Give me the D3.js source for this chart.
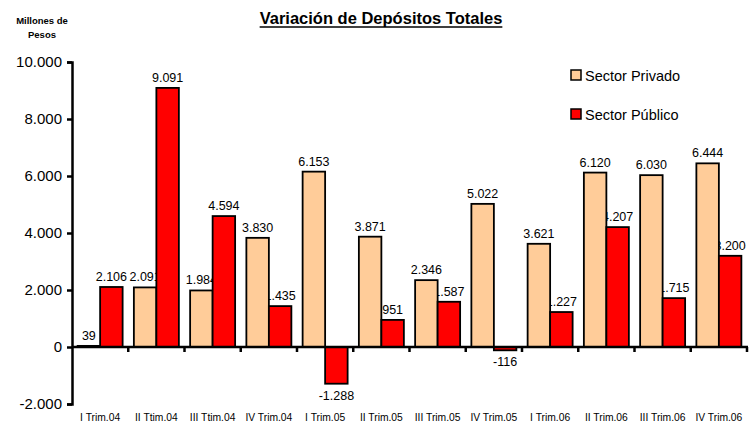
<!DOCTYPE html>
<html>
<head>
<meta charset="utf-8">
<script src="https://cdn.jsdelivr.net/npm/d3@7"></script>
<style>
  body { margin: 0; background: #fff; }
  svg text { font-family: Arial, "Liberation Sans", sans-serif; }
</style>
</head>
<body>
<div id="chart"></div>
<script>
const categories = ["I Trim.04", "II Ttim.04", "III Ttim.04", "IV Trim.04", "I Trim.05", "II Trim.05",
                    "III Trim.05", "IV Trim.05", "I Trim.06", "II Trim.06", "III Trim.06", "IV Trim.06"];
const privado = [39, 2091, 1984, 3830, 6153, 3871, 2346, 5022, 3621, 6120, 6030, 6444];
const publico = [2106, 9091, 4594, 1435, -1288, 951, 1587, -116, 1227, 4207, 1715, 3200];
const seriesNames = ["Sector Privado", "Sector Público"];
const seriesColors = ["#FFCC99", "#FF0000"];
const yTicks = [-2000, 0, 2000, 4000, 6000, 8000, 10000];

const w = 755, h = 423;
const pad_left = 72, pad_right = 747, pad_top = 62, pad_bottom = 404;

const loc = d3.formatLocale({decimal: ",", thousands: ".", grouping: [3], currency: ["$", ""], minus: "-"});
const fmt = loc.format(",d");

const svg = d3.select("#chart").append("svg").attr("width", w).attr("height", h);

const x0 = d3.scaleBand().domain(categories).range([pad_left, pad_right]).padding(0);
const x1 = d3.scaleBand().domain([0, 1]).range([0, x0.bandwidth()]).paddingInner(0).paddingOuter(0.25);
const y = d3.scaleLinear().domain([-2000, 10000]).range([pad_bottom, pad_top]);

const rows = [];
categories.forEach((c, i) => {
  rows.push({cat: c, s: 0, v: privado[i]});
  rows.push({cat: c, s: 1, v: publico[i]});
});

// title
const title = svg.append("text")
  .attr("x", 381).attr("y", 24)
  .attr("text-anchor", "middle")
  .style("font-size", "16.5px").style("font-weight", "bold")
  .text("Variación de Depósitos Totales");
const tb = title.node().getBBox();
svg.append("line").attr("x1", tb.x).attr("x2", tb.x + tb.width)
  .attr("y1", 27).attr("y2", 27).attr("stroke", "#000").attr("stroke-width", 1.4);

// unit label
svg.append("text").attr("x", 42).attr("y", 24).attr("text-anchor", "middle")
  .style("font-size", "9.5px").style("font-weight", "bold").text("Millones de");
svg.append("text").attr("x", 42).attr("y", 38).attr("text-anchor", "middle")
  .style("font-size", "9.5px").style("font-weight", "bold").text("Pesos");

// value labels (drawn first so bars cover them like the original)
svg.append("g").selectAll("text").data(rows).enter().append("text")
  .attr("x", d => x0(d.cat) + x1(d.s) + x1.bandwidth() / 2)
  .attr("y", d => d.v >= 0 ? y(d.v) - 6 : y(d.v) + 16)
  .attr("text-anchor", "middle")
  .style("font-size", "12.5px")
  .text(d => fmt(d.v));

// bars
svg.append("g").selectAll("rect").data(rows).enter().append("rect")
  .attr("x", d => x0(d.cat) + x1(d.s))
  .attr("y", d => y(Math.max(0, d.v)))
  .attr("width", x1.bandwidth())
  .attr("height", d => Math.abs(y(d.v) - y(0)))
  .attr("fill", d => seriesColors[d.s])
  .attr("stroke", "#000").attr("stroke-width", 1.8);

// y axis
const yAxis = d3.axisLeft(y).tickValues(yTicks).tickSize(5).tickPadding(5)
  .tickFormat(d => fmt(d));
const gy = svg.append("g").attr("transform", "translate(" + pad_left + ",0)").call(yAxis);
gy.select(".domain").attr("stroke-width", 2.5);
gy.selectAll(".tick line").attr("stroke-width", 2.5);
gy.selectAll(".tick text").style("font-size", "15px").style("font-family", "Arial, 'Liberation Sans', sans-serif").attr("fill", "#000");

// x axis line at zero, ticks at category boundaries
svg.append("line").attr("x1", pad_left).attr("x2", pad_right + 1)
  .attr("y1", y(0)).attr("y2", y(0)).attr("stroke", "#000").attr("stroke-width", 2.5);
svg.append("g").selectAll("line").data(categories).enter().append("line")
  .attr("x1", d => x0(d) + x0.bandwidth()).attr("x2", d => x0(d) + x0.bandwidth())
  .attr("y1", y(0)).attr("y2", y(0) + 5)
  .attr("stroke", "#000").attr("stroke-width", 2.5);

// category labels
svg.append("g").selectAll("text").data(categories).enter().append("text")
  .attr("x", d => x0(d) + x0.bandwidth() / 2)
  .attr("y", 421)
  .attr("text-anchor", "middle")
  .style("font-size", "10.3px")
  .text(d => d);

// legend
const lg = svg.append("g");
seriesNames.forEach((n, i) => {
  lg.append("rect").attr("x", 571).attr("y", 70 + i * 39).attr("width", 10).attr("height", 10)
    .attr("fill", seriesColors[i]).attr("stroke", "#000").attr("stroke-width", 1.5);
  lg.append("text").attr("x", 585).attr("y", 81 + i * 39)
    .style("font-size", "14.5px").text(n);
});
</script>
</body>
</html>
